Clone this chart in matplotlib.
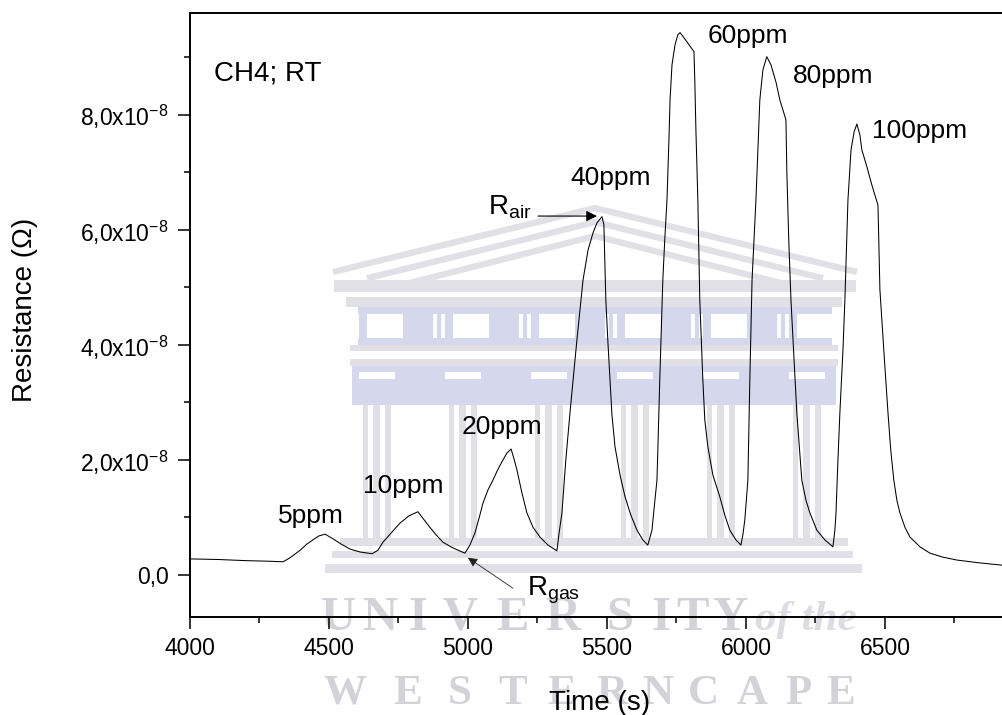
import matplotlib
matplotlib.use("Agg")
import matplotlib.pyplot as plt
from matplotlib.patches import Rectangle, FancyArrowPatch
from matplotlib.ticker import MultipleLocator, FuncFormatter

# ---- sensor response of the film to CH4 pulses at room temperature ----
time_s = [4000, 4100, 4200, 4280, 4335, 4360, 4396, 4421, 4442, 4464, 4486, 4514, 4543, 4576, 4612, 4655,
          4676, 4694, 4727, 4755, 4788, 4820, 4842, 4863, 4885, 4910, 4946, 4989,
          5007, 5025, 5040, 5054, 5072, 5090, 5108, 5126, 5140, 5155, 5165, 5176, 5194, 5212,
          5234, 5259, 5288, 5320,
          5327, 5338, 5352, 5367, 5392, 5414, 5432, 5450, 5464, 5482,
          5489, 5496, 5503, 5511, 5518, 5529, 5547, 5565, 5586, 5608, 5629, 5647,
          5654, 5662, 5669, 5680, 5690, 5701, 5708, 5716, 5723, 5727, 5734, 5745, 5755, 5763,
          5777, 5795, 5813, 5816, 5820, 5827, 5834, 5845, 5852, 5863, 5881, 5906, 5924, 5942, 5964, 5982,
          5989, 5996, 6007, 6014, 6022, 6029, 6036, 6043, 6050, 6061, 6075,
          6090, 6108, 6122, 6144, 6147, 6154, 6162, 6183, 6201, 6216, 6230, 6255, 6284, 6313,
          6320, 6324, 6331, 6338, 6349, 6356, 6367, 6378, 6389, 6399,
          6410, 6417, 6435, 6453, 6475, 6478, 6482, 6496, 6511, 6521, 6532, 6543, 6554,
          6572, 6590, 6626, 6662, 6709, 6759, 6842, 6924]
resistance = [0.28e-8, 0.27e-8, 0.25e-8, 0.24e-8, 0.23e-8, 0.30e-8, 0.43e-8, 0.54e-8, 0.61e-8, 0.68e-8,
              0.71e-8, 0.63e-8, 0.54e-8, 0.45e-8, 0.40e-8, 0.37e-8,
              0.43e-8, 0.57e-8, 0.75e-8, 0.90e-8, 1.03e-8, 1.10e-8, 0.96e-8, 0.83e-8, 0.70e-8, 0.57e-8,
              0.47e-8, 0.38e-8,
              0.52e-8, 0.73e-8, 0.99e-8, 1.25e-8, 1.48e-8, 1.65e-8, 1.84e-8, 2.00e-8, 2.12e-8, 2.19e-8,
              2.03e-8, 1.83e-8, 1.43e-8, 1.08e-8,
              0.83e-8, 0.66e-8, 0.52e-8, 0.42e-8,
              0.70e-8, 1.08e-8, 2.00e-8, 2.82e-8, 4.09e-8, 5.13e-8, 5.65e-8, 5.95e-8, 6.12e-8, 6.23e-8,
              6.09e-8, 4.78e-8, 4.09e-8, 3.39e-8, 2.78e-8, 2.23e-8, 1.74e-8, 1.36e-8, 1.04e-8, 0.78e-8,
              0.61e-8, 0.52e-8,
              0.64e-8, 0.78e-8, 1.13e-8, 1.65e-8, 3.39e-8, 5.13e-8, 5.83e-8, 6.52e-8, 7.57e-8, 8.26e-8,
              8.87e-8, 9.22e-8, 9.39e-8, 9.43e-8,
              9.34e-8, 9.22e-8, 9.10e-8, 8.61e-8, 7.74e-8, 6.52e-8, 4.78e-8, 3.39e-8, 2.70e-8, 2.23e-8,
              1.74e-8, 1.36e-8, 1.04e-8, 0.78e-8, 0.61e-8, 0.52e-8,
              0.70e-8, 0.96e-8, 1.65e-8, 3.39e-8, 5.13e-8, 5.83e-8, 6.52e-8, 7.39e-8, 8.26e-8, 8.78e-8,
              9.01e-8,
              8.87e-8, 8.57e-8, 8.26e-8, 7.91e-8, 7.04e-8, 5.83e-8, 4.78e-8, 2.82e-8, 1.65e-8, 1.30e-8,
              1.08e-8, 0.78e-8, 0.61e-8, 0.49e-8,
              0.78e-8, 1.08e-8, 2.00e-8, 2.82e-8, 3.91e-8, 4.78e-8, 6.52e-8, 7.39e-8, 7.70e-8, 7.84e-8,
              7.65e-8, 7.39e-8, 7.10e-8, 6.78e-8, 6.43e-8, 5.83e-8, 4.96e-8, 3.91e-8, 2.82e-8, 2.17e-8,
              1.65e-8, 1.30e-8, 1.08e-8,
              0.83e-8, 0.66e-8, 0.49e-8, 0.38e-8, 0.31e-8, 0.26e-8, 0.21e-8, 0.17e-8]

# concentration labels, anchored at the lower-left corner of each text
pulse_labels = ["5ppm", "10ppm", "20ppm", "40ppm", "60ppm", "80ppm", "100ppm"]
label_t = [4317, 4622, 4978, 5370, 5863, 6169, 6453]
label_r = [0.90e-8, 1.43e-8, 2.45e-8, 6.78e-8, 9.25e-8, 8.56e-8, 7.60e-8]

x_ticks = [4000, 4500, 5000, 5500, 6000, 6500]
y_ticks = [0.0, 2e-8, 4e-8, 6e-8, 8e-8]

plt.rcParams["font.family"] = ["Liberation Sans", "DejaVu Sans"]
plt.rcParams["mathtext.fontset"] = "custom"
plt.rcParams["mathtext.rm"] = "Liberation Sans"
plt.rcParams["mathtext.it"] = "Liberation Sans:italic"
plt.rcParams["mathtext.bf"] = "Liberation Sans:bold"

W, H = 1003, 715
fig = plt.figure(figsize=(W / 100, H / 100), dpi=100)

# ---- faint background emblem (drawn in pixel coordinates) ----
bg = fig.add_axes([0, 0, 1, 1], zorder=0)
bg.set_xlim(0, W)
bg.set_ylim(H, 0)
bg.axis("off")
gray = "#e0e0e6"
blue = "#d5d8ec"

def band(x0, x1, y0, y1, c):
    bg.add_patch(Rectangle((x0, y0), x1 - x0, y1 - y0, color=c, lw=0))

# pediment
for off, half in [(0, 262), (14, 228), (28, 192)]:
    bg.plot([595 - half, 595, 595 + half], [272 + off * 0.45, 208 + off, 272 + off * 0.45],
            color=gray, lw=4.5, solid_capstyle="butt")
band(334, 856, 280, 292, gray)
band(346, 842, 297, 307, gray)
# frieze with windows
band(358, 832, 307, 345, blue)
for i in range(6):
    cx = 377 + i * 86
    band(cx - 10, cx + 26, 314, 338, "white")
    for k in range(2):
        band(cx - 30 + k * 8, cx - 26 + k * 8, 314, 338, "white")
band(350, 838, 345, 351, gray)
band(350, 838, 359, 366, gray)
# capital band
band(352, 836, 366, 405, blue)
# columns
for i in range(6):
    cx = 377 + i * 86
    band(cx - 18, cx + 18, 372, 379, "white")
    band(cx - 14, cx + 14, 405, 540, gray)
    band(cx - 9, cx - 4, 405, 540, "white")
    band(cx + 3, cx + 8, 405, 540, "white")
# steps
band(340, 848, 538, 546, gray)
band(332, 853, 551, 558, gray)
band(325, 862, 564, 573, gray)

wm_color = "#d2d2d8"
for ch, cx in zip("UNIVERSITY", [338, 380, 418, 460, 512, 563, 620, 661, 692, 730]):
    bg.text(cx, 630, ch, ha="center", va="baseline", fontsize=35, weight="bold",
            family="Liberation Serif", color=wm_color)
bg.text(806, 630, "of the", ha="center", va="baseline", fontsize=31, weight="bold",
        family="Liberation Serif", style="italic", color="#dcdce2")
for ch, cx in zip("WESTERN", [345, 408, 460, 513, 562, 612, 658]):
    bg.text(cx, 704, ch, ha="center", va="baseline", fontsize=31, weight="bold",
            family="Liberation Serif", color=wm_color)
for ch, cx in zip("CAPE", [703, 752, 798, 841]):
    bg.text(cx, 704, ch, ha="center", va="baseline", fontsize=31, weight="bold",
            family="Liberation Serif", color=wm_color)

# ---- main plot ----
left, bottom, top, right = 190, 617, 13, 1005
ax = fig.add_axes([left / W, 1 - bottom / H, (right - left) / W, (bottom - top) / H], zorder=1)
ax.set_facecolor("none")

ax.plot(time_s, resistance, color="black", lw=0.75)

ax.set_xlim(4000, 6932)
ax.set_ylim(-0.73e-8, 9.77e-8)
ax.set_xticks(x_ticks)
ax.set_yticks(y_ticks)
ax.xaxis.set_minor_locator(MultipleLocator(250))
ax.yaxis.set_minor_locator(MultipleLocator(1e-8))

def sci_comma(v, pos):
    if abs(v) < 1e-20:
        return "0,0"
    mant = f"{v / 1e-8:.1f}".replace(".", ",")
    return mant + r"x10$^{\mathregular{-8}}$"

ax.yaxis.set_major_formatter(FuncFormatter(sci_comma))
ax.tick_params(which="major", direction="out", length=8.5, width=1.1, labelsize=16.5, pad=6,
               colors="black")
ax.tick_params(which="minor", direction="out", length=4.5, width=1.1)
ax.tick_params(axis="y", which="major", pad=7)
for s in ax.spines.values():
    s.set_linewidth(1.4)

fig.text(25 / W, 1 - 310 / H, "Resistance (\u03a9)", rotation=90, ha="center", va="center",
         fontsize=20)
fig.text(600 / W, 1 - 710 / H, "Time (s)", ha="center", va="baseline", fontsize=20)

ax.text(4086, 8.59e-8, "CH4; RT", fontsize=20, va="baseline", ha="left")
for txt, t, r in zip(pulse_labels, label_t, label_r):
    ax.text(t, r, txt, fontsize=19, va="baseline", ha="left")

# R_air and R_gas markers
ax.text(5072, 6.26e-8, r"R$_{\mathregular{air}}$", fontsize=20, va="baseline", ha="left")
ax.add_patch(FancyArrowPatch((5252, 6.24e-8), (5464, 6.24e-8), arrowstyle="-|>",
                             mutation_scale=16, color="black", lw=0.8, shrinkA=0, shrinkB=0))
ax.text(5212, -0.35e-8, r"R$_{\mathregular{gas}}$", fontsize=20, va="baseline", ha="left")
ax.add_patch(FancyArrowPatch((5162, -0.23e-8), (5000, 0.30e-8), arrowstyle="-|>",
                             mutation_scale=14, color="#222222", lw=0.6, shrinkA=0, shrinkB=0))

fig.savefig("out.png", dpi=100)
